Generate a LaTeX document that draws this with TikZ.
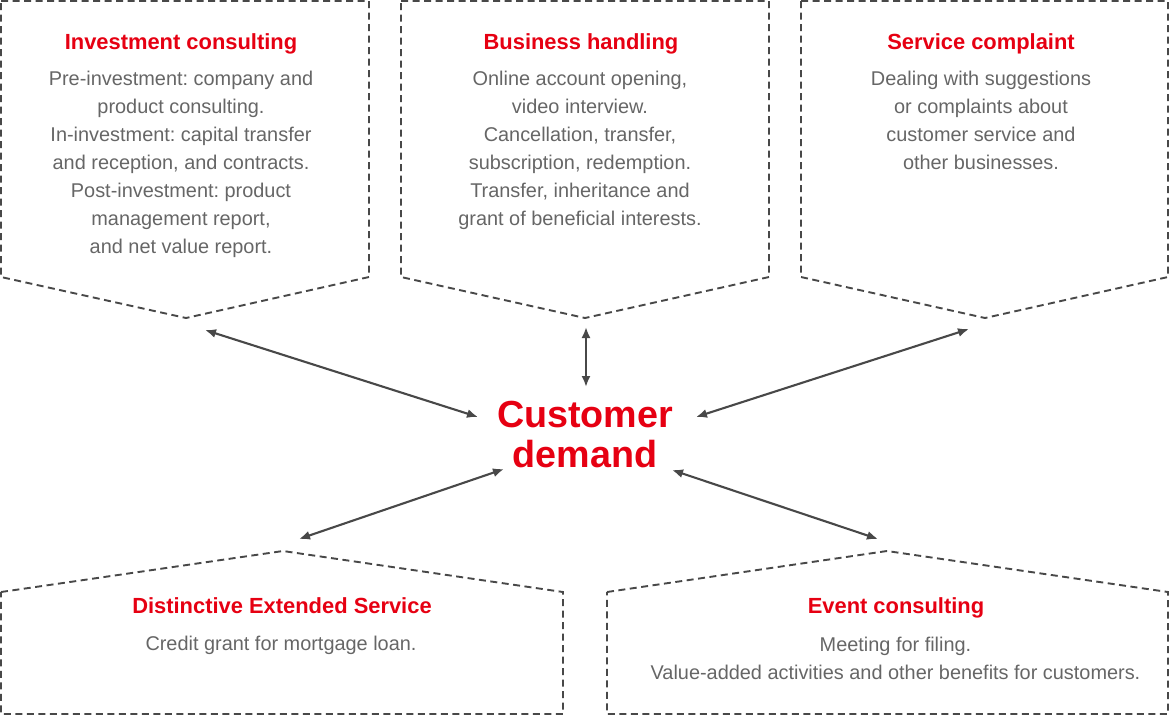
\documentclass[tikz,border=0pt]{standalone}
\usepackage{fontspec}
\setmainfont{Liberation Sans}
\usetikzlibrary{arrows.meta}
\frenchspacing
\definecolor{demandred}{HTML}{E60012}
\definecolor{bodygray}{HTML}{666666}
\definecolor{linegray}{HTML}{484848}
\tikzset{boxline/.style={draw=linegray, line width=1.9pt, dash pattern=on 7pt off 4.5pt}}
\tikzset{boxtitle/.style={text=demandred, font=\fontsize{21.9}{26}\selectfont\bfseries,
    anchor=base, inner sep=0pt}}
\tikzset{boxtext/.style={text=bodygray, font=\fontsize{19.9}{28}\selectfont,
    align=center, anchor=north, inner sep=0pt}}
\tikzset{demand/.style={text=demandred, font=\fontsize{37.7}{40}\selectfont\bfseries,
    align=center, anchor=north, inner sep=0pt}}
\tikzset{link/.style={draw=linegray, line width=2.1pt,
    {Latex[length=11pt,width=9pt]}-{Latex[length=11pt,width=9pt]}}}

\begin{document}
\begin{tikzpicture}[x=1pt,y=-1pt]
  \useasboundingbox (0,0) rectangle (1170,716);

  % boxes
  \draw[boxline] (1,1) -- (369,1) -- (369,277) -- (186,318) -- (1,277) -- cycle;
  \draw[boxline] (401,1) -- (769,1) -- (769,277) -- (585,318) -- (401,277) -- cycle;
  \draw[boxline] (801,1) -- (1168,1) -- (1168,277) -- (985,318) -- (801,277) -- cycle;
  \draw[boxline] (1,592) -- (283,551) -- (563,592) -- (563,714) -- (1,714) -- cycle;
  \draw[boxline] (607,592) -- (887,551) -- (1168,592) -- (1168,714) -- (607,714) -- cycle;

  \node[boxtitle] (invtitle) at (181,49) {Investment consulting};
  \node[boxtext] (invtext) at (181,71) {Pre-investment: company and\\
    product consulting.\\In-investment: capital transfer\\
    and reception, and contracts.\\Post-investment: product\\
    management report,\\and net value report.};

  \node[boxtitle] (bustitle) at (581,49) {Business handling};
  \node[boxtext] (bustext) at (580,71) {Online account opening,\\
    video interview.\\Cancellation, transfer,\\subscription, redemption.\\
    Transfer, inheritance and\\grant of beneficial interests.};

  \node[boxtitle] (comtitle) at (981,49) {Service complaint};
  \node[boxtext] (comtext) at (981,71) {Dealing with suggestions\\
    or complaints about\\customer service and\\other businesses.};

  \node[boxtitle] (exttitle) at (282,613) {Distinctive Extended Service};
  \node[boxtext] (exttext) at (281,636) {Credit grant for mortgage loan.};

  \node[boxtitle] (evttitle) at (896,613) {Event consulting};
  \node[boxtext] (evttext) at (895.5,636.5) {Meeting for filing.\\
    Value-added activities and other benefits for customers.};

  \node[demand] (cd) at (585,400.5) {Customer\\demand};

  % arrows
  \coordinate (inv) at (205,330);
  \coordinate (bus) at (586,327);
  \coordinate (com) at (969,329);
  \coordinate (ext) at (299,539);
  \coordinate (evt) at (878,539);
  \coordinate (cdinv) at (478,417);
  \coordinate (cdbus) at (586,387);
  \coordinate (cdcom) at (696,417);
  \coordinate (cdext) at (504,469);
  \coordinate (cdevt) at (672,470);

  \draw[link] (inv) -- (cdinv);
  \draw[link] (bus) -- (cdbus);
  \draw[link] (com) -- (cdcom);
  \draw[link] (ext) -- (cdext);
  \draw[link] (evt) -- (cdevt);
\end{tikzpicture}
\end{document}
